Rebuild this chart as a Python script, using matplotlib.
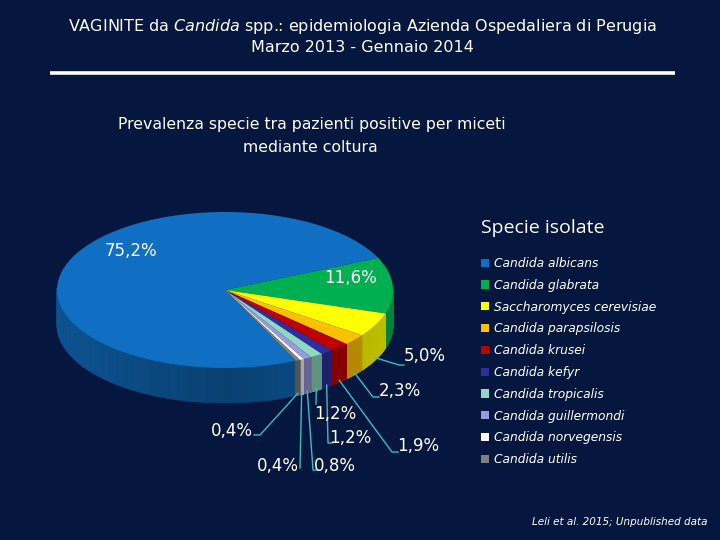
import matplotlib
matplotlib.use("Agg")
import matplotlib.pyplot as plt
from matplotlib.patches import Polygon
from matplotlib.colors import to_rgb
import numpy as np

# ---------------- data ----------------
species = ["Candida albicans", "Candida glabrata", "Saccharomyces cerevisiae",
           "Candida parapsilosis", "Candida krusei", "Candida kefyr",
           "Candida tropicalis", "Candida guillermondi", "Candida norvegensis",
           "Candida utilis"]
values = [75.2, 11.6, 5.0, 2.3, 1.9, 1.2, 1.2, 0.8, 0.4, 0.4]
colors = ["#106fc2", "#00b050", "#ffff00", "#ffc000", "#c00000", "#2e2ea0",
          "#8fd9c0", "#9999dd", "#ffffff", "#808080"]
pct_labels = [f"{v:.1f}".replace(".", ",") + "%" for v in values]

title1 = r"VAGINITE da $\mathit{Candida}$ spp.: epidemiologia Azienda Ospedaliera di Perugia"
title2 = "Marzo 2013 - Gennaio 2014"
subtitle1 = "Prevalenza specie tra pazienti positive per miceti"
subtitle2 = "mediante coltura"
legend_title = "Specie isolate"
footnote = "Leli et al. 2015; Unpublished data"

# ---------------- layout (pixels) ----------------
BG = "#06173f"
W, H = 720, 540
CX, CY, RX, RY = 225, 290, 168, 78   # pie top-ellipse centre / radii
DEPTH = 35
label_xy = [(131, 251), (350, 278), (425, 356), (400, 391), (418, 446),
            (350, 438), (335, 414), (335, 466), (278, 466), (232, 431)]
leader_pts = {2: [(399, 365), (404, 365)],
              3: [(373, 397), (379, 397)],
              4: [(392, 452), (398, 452)],
              5: [(328, 443), (332, 443)],
              6: [(316, 404)],
              7: [(313, 470), (318, 470)],
              8: [(300, 468)],
              9: [(260, 435), (254, 435)]}
LEADER = "#3fbcbc"

fig = plt.figure(figsize=(W / 100, H / 100), dpi=100, facecolor=BG)

# pie axes: 1 data unit = RX px horizontally, RY px vertically
ax = fig.add_axes([0, 0, 1, 1])
wedges, _ = ax.pie(values, colors=colors, startangle=-65, counterclock=False,
                   wedgeprops=dict(linewidth=0, zorder=3))
ax.set_aspect("auto")
ax.set_xlim(-CX / RX, (W - CX) / RX)
ax.set_ylim(-(H - CY) / RY, CY / RY)
ax.axis("off")

d = DEPTH / RY
for w, c in zip(wedges, colors):
    base = np.array(to_rgb(c))
    ts = np.radians(np.linspace(w.theta1, w.theta2, 80))
    for a, b in zip(ts[:-1], ts[1:]):
        m = 0.5 * (a + b)
        if np.sin(m) > 0.01:
            continue
        f = 0.58 + 0.17 * abs(np.cos(m))
        col = np.clip(base * f, 0, 1)
        poly = Polygon([(np.cos(a), np.sin(a)), (np.cos(b), np.sin(b)),
                        (np.cos(b), np.sin(b) - d), (np.cos(a), np.sin(a) - d)],
                       closed=True, facecolor=col, edgecolor=col, linewidth=0.6,
                       zorder=2)
        ax.add_patch(poly)

# overlay axes in pixel coordinates
ox = fig.add_axes([0, 0, 1, 1])
ox.set_xlim(0, W)
ox.set_ylim(H, 0)
ox.axis("off")
ox.patch.set_alpha(0)

for i, (lab, (x, y)) in enumerate(zip(pct_labels, label_xy)):
    ox.text(x, y, lab, ha="center", va="center", color="white", fontsize=12)
    if i in leader_pts:
        w = wedges[i]
        m = np.radians(0.5 * (w.theta1 + w.theta2))
        axp = CX + RX * np.cos(m)
        ayp = CY - RY * np.sin(m) + DEPTH - 2
        pts = [(axp, ayp)] + leader_pts[i]
        ox.plot([p[0] for p in pts], [p[1] for p in pts], color=LEADER, lw=1.0)

# titles
ox.text(362, 27, title1, ha="center", va="center", color="white", fontsize=11.5)
ox.text(362, 48, title2, ha="center", va="center", color="white", fontsize=11.5)
ox.plot([50, 675], [73, 73], color="white", lw=2.6, solid_capstyle="butt")
ox.text(312, 125, subtitle1, ha="center", va="center", color="white", fontsize=11.3)
ox.text(310, 147, subtitle2, ha="center", va="center", color="white", fontsize=11.3)

# legend
ox.text(481, 228, legend_title, ha="left", va="center", color="white",
        fontsize=14, family="Open Sans")
leg = fig.legend(wedges, species, loc="upper left",
                 bbox_to_anchor=(481 / W, 1 - 257 / H), bbox_transform=fig.transFigure,
                 frameon=False, borderpad=0, borderaxespad=0,
                 handlelength=0.65, handleheight=0.65, handletextpad=0.45,
                 labelspacing=0.72, labelcolor="white",
                 prop=dict(size=8.8, style="italic"))

ox.text(708, 522, footnote, ha="right", va="center", color="white",
        fontsize=7.5, style="italic")

fig.savefig("out.png", dpi=100, facecolor=BG)
